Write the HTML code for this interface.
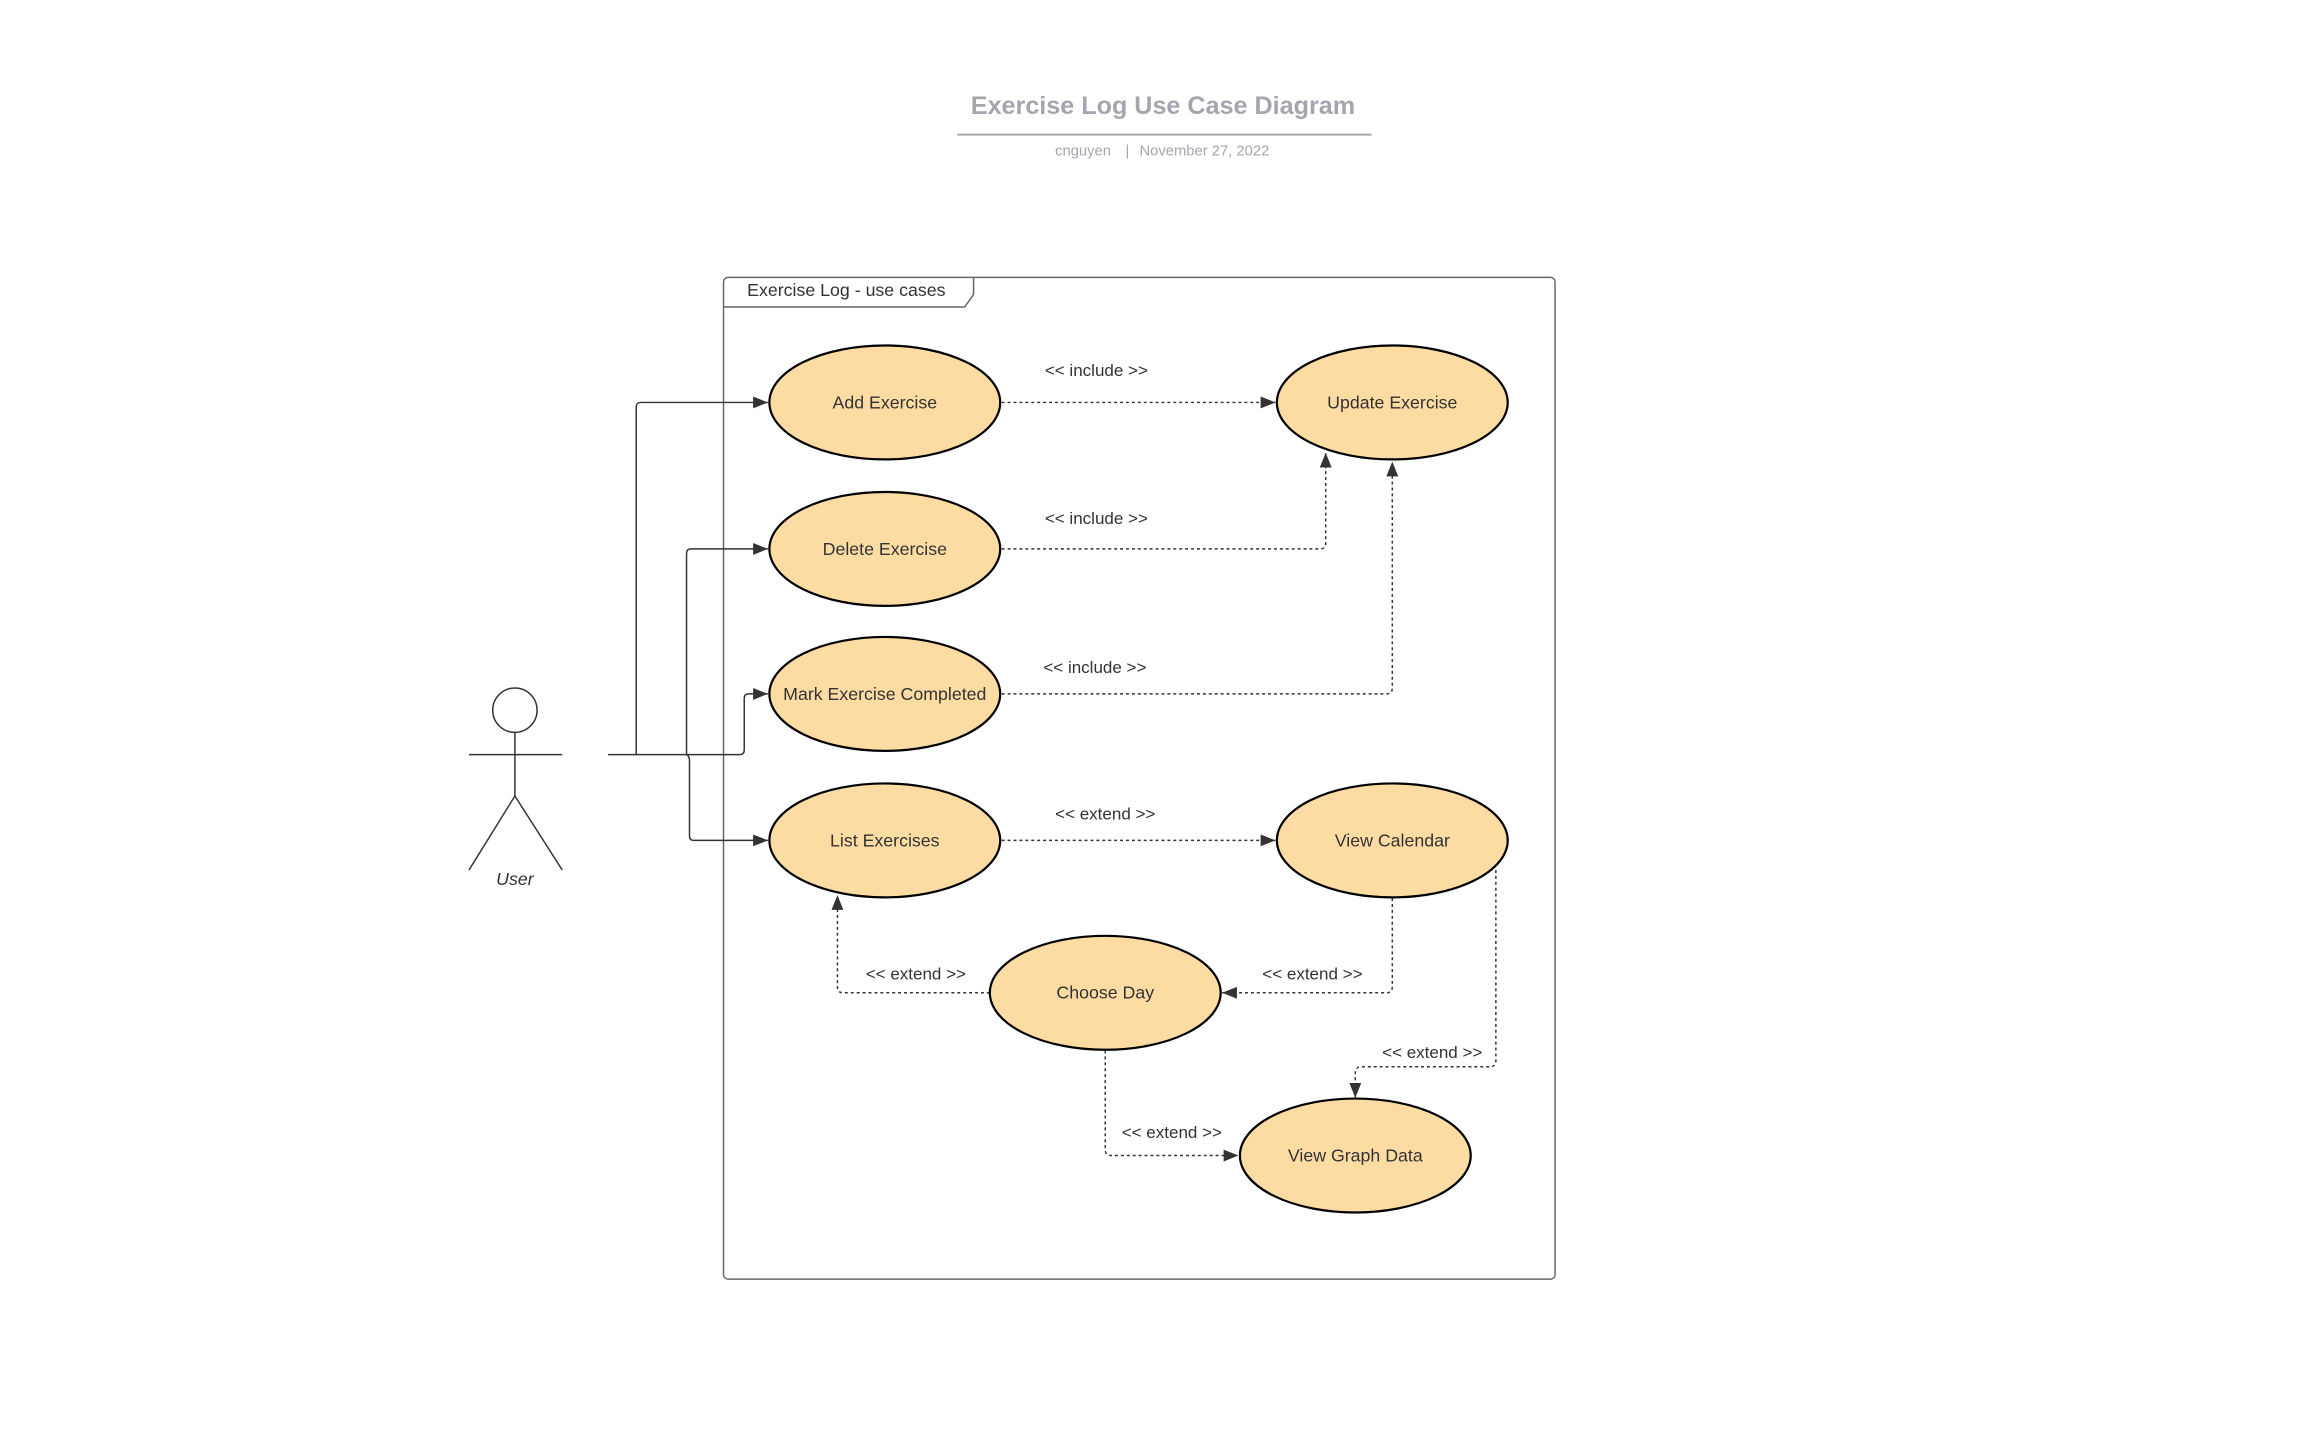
<!DOCTYPE html>
<html><head><meta charset="utf-8"><style>html,body{margin:0;padding:0;background:#fff}svg{display:block}</style></head>
<body>
<svg width="2320" height="1455" viewBox="0 0 1568 983.4" preserveAspectRatio="none" xmlns="http://www.w3.org/2000/svg" font-family="Liberation Sans, sans-serif">
<defs>
<marker id="a" viewBox="0 0 10 10" refX="10" refY="5" markerWidth="10" markerHeight="10" markerUnits="userSpaceOnUse" orient="auto"><path d="M0,1 L10,5 L0,9 Z" fill="#333"/></marker>
</defs>
<rect x="-2" y="-2" width="1572" height="988" fill="#fff"/>
<text x="786" y="77" text-anchor="middle" font-size="17" font-weight="bold" fill="#a3a6ae">Exercise Log Use Case Diagram</text>
<line x1="647" y1="91" x2="927" y2="91" stroke="#a3a6ae" stroke-width="1.3"/>
<g font-size="10" fill="#a3a6ae" text-anchor="middle">
<text x="732" y="105">cnguyen</text>
<text x="762" y="105">|</text>
<text x="814" y="105">November 27, 2022</text>
</g>

<rect x="489" y="187.5" width="562" height="677" rx="3" fill="none" stroke="#666" stroke-width="1"/>
<path d="M489,207.5 H652 L658,199 V187.5" fill="none" stroke="#666" stroke-width="1"/>
<text x="505" y="200" font-size="12" fill="#333">Exercise Log - use cases</text>

<g stroke="#333" stroke-width="1" fill="none">
<circle cx="348" cy="480" r="15"/>
<line x1="317" y1="510" x2="380" y2="510"/>
<line x1="348" y1="495" x2="348" y2="538"/>
<path d="M317,588 L348,538 L380,588"/>
</g>
<text x="348" y="598" text-anchor="middle" font-size="12" font-style="italic" fill="#333">User</text>

<g stroke="#333" stroke-width="1" fill="none">
<line x1="411" y1="510" x2="500" y2="510"/>
<path d="M430,510 V275 Q430,272 433,272 H519" marker-end="url(#a)"/>
<path d="M464,510 V374 Q464,371 467,371 H519" marker-end="url(#a)"/>
<path d="M500,510 Q503,510 503,507 V472 Q503,469 506,469 H519" marker-end="url(#a)"/>
<path d="M464,510 Q466,511 466,514 V565 Q466,568 469,568 H519" marker-end="url(#a)"/>
</g>

<g stroke="#333" stroke-width="1" fill="none" stroke-dasharray="2,2">
<path d="M677,272 H862" marker-end="url(#a)"/>
<path d="M677,371 H892 Q896,371 896,367 V306" marker-end="url(#a)"/>
<path d="M677,469 H937 Q941,469 941,465 V312" marker-end="url(#a)"/>
<path d="M677,568 H862" marker-end="url(#a)"/>
<path d="M669,671 H570 Q566,671 566,667 V605" marker-end="url(#a)"/>
<path d="M941,607 V667 Q941,671 937,671 H826" marker-end="url(#a)"/>
<path d="M1011,588 V717 Q1011,721 1007,721 H920 Q916,721 916,725 V742" marker-end="url(#a)"/>
<path d="M747,710 V777 Q747,781 751,781 H837" marker-end="url(#a)"/>
</g>

<g font-size="11.5" fill="#333" text-anchor="middle">
<text x="741" y="254">&lt;&lt; include &gt;&gt;</text>
<text x="741" y="354">&lt;&lt; include &gt;&gt;</text>
<text x="740" y="455">&lt;&lt; include &gt;&gt;</text>
<text x="747" y="554">&lt;&lt; extend &gt;&gt;</text>
<text x="619" y="662">&lt;&lt; extend &gt;&gt;</text>
<text x="887" y="662">&lt;&lt; extend &gt;&gt;</text>
<text x="968" y="715">&lt;&lt; extend &gt;&gt;</text>
<text x="792" y="769">&lt;&lt; extend &gt;&gt;</text>
</g>

<g fill="#fddca4" stroke="#000" stroke-width="1.5">
<ellipse cx="598" cy="272" rx="78" ry="38.5"/>
<ellipse cx="941" cy="272" rx="78" ry="38.5"/>
<ellipse cx="598" cy="371" rx="78" ry="38.5"/>
<ellipse cx="598" cy="469" rx="78" ry="38.5"/>
<ellipse cx="598" cy="568" rx="78" ry="38.5"/>
<ellipse cx="941" cy="568" rx="78" ry="38.5"/>
<ellipse cx="747" cy="671" rx="78" ry="38.5"/>
<ellipse cx="916" cy="781" rx="78" ry="38.5"/>
</g>
<g font-size="12" fill="#333" text-anchor="middle">
<text x="598" y="276">Add Exercise</text>
<text x="941" y="276">Update Exercise</text>
<text x="598" y="375">Delete Exercise</text>
<text x="598" y="473">Mark Exercise Completed</text>
<text x="598" y="572">List Exercises</text>
<text x="941" y="572">View Calendar</text>
<text x="747" y="675">Choose Day</text>
<text x="916" y="785">View Graph Data</text>
</g>
</svg>
</body></html>
